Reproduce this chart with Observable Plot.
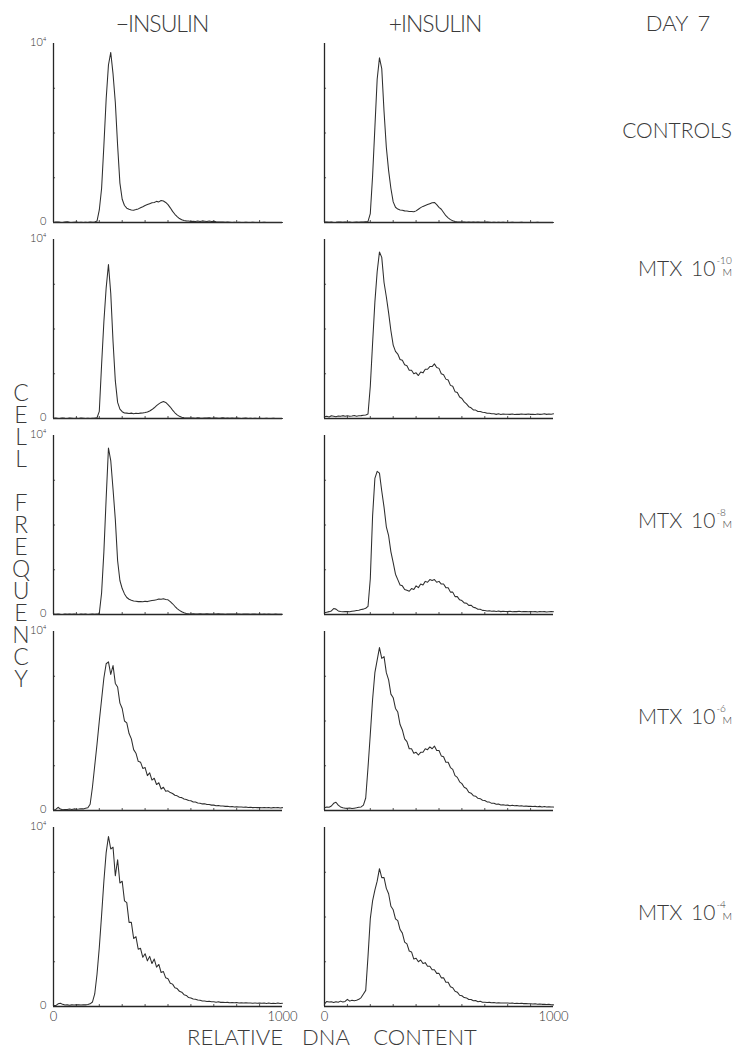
<!DOCTYPE html>
<html><head><meta charset="utf-8">
<script src="https://cdn.jsdelivr.net/npm/d3@7"></script>
<script src="https://cdn.jsdelivr.net/npm/@observablehq/plot@0.6"></script>
<style>
body{margin:0;background:#fff;}
#fig{position:relative;width:736px;height:1049px;overflow:hidden;font-family:Lato,"Open Sans",sans-serif;font-weight:300;color:#3a3a3a;background:#fff;}
#fig svg{position:absolute;left:0;top:0;}
.lbl{position:absolute;transform:translate(-50%,-50%);white-space:nowrap;line-height:1;}
.lft{position:absolute;transform:translate(0,-50%);white-space:nowrap;line-height:1;font-size:21px;}
.vert{position:absolute;writing-mode:vertical-lr;text-orientation:upright;white-space:nowrap;line-height:1;}
.ex{display:inline-block;position:relative;width:22px;height:16px;vertical-align:baseline;}
.ex .e{position:absolute;left:1px;top:-5px;font-size:10px;}
.ex .m{position:absolute;left:7px;bottom:-1px;font-size:10.5px;}
</style></head><body><div id="fig"></div>
<script>
// ---- data ----
const channels = [0,10,20,30,40,50,60,70,80,90,100,110,120,130,140,150,160,170,180,190,200,210,220,230,240,250,260,270,280,290,300,310,320,330,340,350,360,370,380,390,400,410,420,430,440,450,460,470,480,490,500,510,520,530,540,550,560,570,580,590,600,610,620,630,640,650,660,670,680,690,700,710,720,730,740,750,760,770,780,790,800,810,820,830,840,850,860,870,880,890,900,910,920,930,940,950,960,970,980,990,1000];
const insulin = ["−INSULIN", "+INSULIN"];
const treatments = ["CONTROLS", "MTX 10-10", "MTX 10-8", "MTX 10-6", "MTX 10-4"];
const exponents = ["", "-10", "-8", "-6", "-4"];
const dayLabel = "DAY 7";
const yTitle = "CELL FREQUENCY";
const xTitle = ["RELATIVE", "DNA", "CONTENT"];
const yTickValues = [0, 10000];
const yTickLabels = ["0", "10⁴"];
const xTickValues = [0, 1000];
const xTickLabels = ["0", "1000"];
const xMinorTicks = [100,200,300,400,500,600,700,800,900];
const yMinorTicks = [2500,5000,7500];

const ctrlMinus = [0,20,30,10,0,20,40,10,0,10, 20,0,10,0,10,0,20,10,30,80, 700,1900,4300,6900,8800,9500,8300,6700,4300,2200, 1300,950,800,740,700,690,720,760,820,880, 950,1000,1050,1100,1120,1180,1150,1230,1200,1120, 1000,820,620,460,330,220,150,110,90,80, 60,70,50,80,60,90,70,50,80,60, 70,40,30,20,30,10,20,10,0,10, 0,10,0,0,10,0,0,10,0,0, 0,0,10,0,0,0,0,0,0,0, 0];
const ctrlPlus = [20,30,10,20,0,10,30,20,10,20, 10,20,0,10,20,10,30,20,40,60, 500,2600,5300,8000,9200,8600,6200,4200,2900,1900, 1150,850,750,700,680,650,640,620,610,600, 650,740,830,900,950,1000,1050,1100,1120,1000, 850,740,560,380,260,160,100,50,30,20, 20,30,10,20,10,20,10,20,10,10, 10,20,10,0,10,0,10,0,10,0, 0,0,10,0,0,0,10,0,0,0, 0,0,0,10,0,0,0,0,0,0, 0];
const m10Minus = [10,20,0,10,30,10,0,20,10,0, 10,0,20,10,0,10,0,10,20,40, 400,3000,5400,7300,8600,7000,4300,2100,900,520, 380,310,300,280,300,270,290,280,300,310, 330,360,420,500,600,720,820,900,950,900, 780,640,470,320,200,120,70,40,30,20, 30,20,10,40,20,10,30,20,40,10, 20,30,10,20,40,10,20,10,30,10, 20,10,0,10,20,0,10,0,10,0, 10,0,0,10,0,0,10,0,0,0, 0];
const m10Plus = [100,120,80,150,130,100,140,120,160,130, 150,120,140,170,130,150,160,180,200,250, 1800,4200,6500,8200,9300,9000,7600,6800,5900,4900, 4100,3750,3600,3300,3250,3000,2950,2700,2700,2500, 2550,2400,2600,2550,2750,2750,2900,2900,3050,2850, 2800,2500,2450,2200,2150,1850,1800,1500,1450,1200, 1120,930,820,660,600,480,470,390,390,350, 340,290,290,260,260,230,260,220,250,240, 240,230,250,220,240,230,250,240,230,250, 230,240,220,250,230,240,260,230,250,240, 260];
const m8Minus = [20,10,30,10,0,20,10,30,10,20, 10,0,20,10,20,0,10,20,10,20, 60,1200,3500,6500,9300,8600,7000,5300,3000,1900, 1450,1150,950,850,800,760,740,720,730,710, 740,720,760,780,800,820,860,850,880,840, 820,720,600,460,330,230,150,100,60,40, 30,40,20,30,40,20,30,40,30,20, 30,20,40,20,30,10,30,20,20,30, 20,30,10,20,30,20,10,30,20,10, 20,10,20,10,20,10,10,20,10,10, 10];
const m8Plus = [100,130,160,200,330,300,200,170,150,160, 170,150,180,200,220,240,280,300,350,450, 2000,5500,7600,8000,7900,6900,6000,4900,4400,3500, 2900,2250,1950,1650,1600,1400,1350,1300,1450,1400, 1600,1500,1700,1650,1850,1800,1950,1900,1950,1800, 1850,1700,1700,1500,1500,1250,1250,1000,1000,820, 780,650,630,510,520,400,370,290,290,230, 220,200,210,180,200,170,190,160,180,170, 160,180,150,170,160,180,150,170,160,150, 170,150,160,140,170,150,160,140,150,160, 150];
const m6Minus = [20,60,180,80,40,60,50,80,60,90, 70,80,100,90,120,150,350,1300,2500,3700, 5000,6200,7400,8200,8300,7600,8100,7100,6900,6000, 5700,5000,4900,4300,4000,3400,3200,2750,2700,2350, 2400,1950,2100,1700,1800,1450,1550,1200,1300,1080, 1100,1000,950,850,820,740,720,640,620,560, 540,480,470,420,410,370,380,340,330,300, 300,270,280,250,250,230,240,210,220,200, 210,190,200,180,190,170,180,160,170,160, 170,150,160,150,170,140,160,150,170,140, 160];
const m6Plus = [150,200,180,250,400,460,300,200,150,130, 120,140,110,130,150,180,200,300,700,2400, 4260,6200,7700,8400,9100,8500,8600,7700,7300,6500, 6300,5700,5500,4800,4500,4000,3850,3450,3450,3200, 3250,3100,3250,3250,3450,3400,3550,3450,3600,3350, 3350,3050,3000,2700,2700,2400,2300,1950,1850,1600, 1500,1300,1230,1020,970,830,800,680,660,570, 560,480,470,400,410,350,360,310,320,290, 300,270,290,260,280,250,260,240,250,230, 240,220,230,210,230,200,220,190,210,200, 190];
const m4Minus = [60,50,150,180,120,80,90,70,90,80, 100,90,80,100,90,110,150,250,700,1800, 3300,5100,7000,8600,9500,8800,8900,7300,8200,6900, 7000,5900,5800,4700,4700,3800,3900,3200,3250,2750, 2950,2550,2800,2400,2650,2200,2350,1900,1950,1600, 1550,1300,1250,1050,1000,850,800,660,620,500, 480,420,410,360,350,310,310,280,290,260, 270,240,260,230,240,220,230,210,220,210, 220,200,210,190,210,190,200,180,200,180, 190,180,190,170,190,170,180,170,190,170, 180];
const m4Plus = [150,280,250,260,220,270,240,300,250,280, 400,300,350,320,350,400,500,700,900,2800, 4900,5900,6500,7000,7700,7200,7200,6600,6300,5600, 5400,4900,4800,4300,4100,3600,3500,3100,3050,2650, 2700,2500,2600,2400,2450,2250,2250,2050,2050,1850, 1850,1600,1600,1350,1350,1100,1050,850,800,630, 600,500,480,390,390,320,330,270,290,240, 240,220,230,210,220,200,210,190,200,190, 190,180,190,170,180,170,180,160,170,150, 150,140,150,130,140,120,130,110,120,100, 90];

// ---- build table ----
const panels = [
  [treatments[0], insulin[0], ctrlMinus], [treatments[0], insulin[1], ctrlPlus],
  [treatments[1], insulin[0], m10Minus], [treatments[1], insulin[1], m10Plus],
  [treatments[2], insulin[0], m8Minus], [treatments[2], insulin[1], m8Plus],
  [treatments[3], insulin[0], m6Minus], [treatments[3], insulin[1], m6Plus],
  [treatments[4], insulin[0], m4Minus], [treatments[4], insulin[1], m4Plus]
];
const rows = panels.flatMap(([t, ins, vals]) => vals.map((v, i) => ({t, ins, x: channels[i], y: v})));
const yLabelData = treatments.flatMap(t => yTickValues.map((v, j) => ({t, ins: insulin[0], y: v, label: yTickLabels[j]})));
const xLabelData = insulin.flatMap(ins => xTickValues.map((v, j) => ({t: treatments[4], ins, x: v, label: xTickLabels[j]})));

const ink = "#262626";
const font = "Lato, 'Open Sans', sans-serif";

const chart = Plot.plot({
  width: 736, height: 1049,
  marginTop: 41, marginBottom: 41, marginLeft: 52, marginRight: 182,
  style: {background: "transparent", overflow: "visible"},
  x: {domain: [0, 1000], axis: null},
  y: {domain: [0, 10000], axis: null},
  fx: {domain: insulin, paddingInner: 0.154, paddingOuter: 0, axis: null, label: null},
  fy: {domain: treatments, paddingInner: 0.085, paddingOuter: 0, axis: null, label: null},
  marks: [
    Plot.ruleY([0], {x1: 0, x2: 1000, stroke: ink, strokeWidth: 1.3}),
    Plot.ruleX([0], {y1: 0, y2: 10000, stroke: ink, strokeWidth: 1.3}),
    Plot.ruleX(xMinorTicks, {x: d => d, y1: 0, y2: 110, stroke: ink, strokeWidth: 0.8}),
    Plot.ruleY(yMinorTicks, {y: d => d, x1: 0, x2: 9, stroke: ink, strokeWidth: 0.8}),
    Plot.line(rows, {x: "x", y: "y", fx: "ins", fy: "t", stroke: "#2e2e2e", strokeWidth: 1.05, strokeLinejoin: "round"}),
    Plot.text(yLabelData, {x: 0, y: "y", fx: "ins", fy: "t", text: "label", textAnchor: "end", dx: -7, dy: -1, fontSize: 11, fontFamily: font, fill: "#333"}),
    Plot.text(xLabelData, {x: "x", y: 0, fx: "ins", fy: "t", text: "label", textAnchor: "middle", dy: 10, fontSize: 13, fontFamily: font, fill: "#333"})
  ]
});

const fig = document.getElementById("fig");
fig.appendChild(chart);

function addLabel(html, x, y, size, cls = "lbl", extra = "") {
  const d = document.createElement("div");
  d.className = cls;
  d.style.left = x + "px";
  d.style.top = y + "px";
  if (size) d.style.fontSize = size + "px";
  if (extra) d.style.cssText += extra;
  d.innerHTML = html;
  fig.appendChild(d);
  return d;
}

// column headers
addLabel(insulin[0], 162, 23, 23, "lbl", "letter-spacing:-1px;");
addLabel(insulin[1], 435, 23, 23, "lbl", "letter-spacing:-1px;");
addLabel(dayLabel, 678, 23, 22, "lbl", "word-spacing:4px;");

// row labels
const rowY = [129, 267, 519, 715, 911];
treatments.forEach((t, i) => {
  if (i === 0) {
    addLabel(t, 677, rowY[i], 21);
  } else {
    const [name, base] = t.split(" ");
    addLabel(`${name} ${base.split("-")[0]}<span class="ex"><span class="e">${exponents[i]}</span><span class="m">M</span></span>`, 638, rowY[i], 21, "lft", "word-spacing:3px;");
  }
});

// y title: one vertical text, letters upright
addLabel(yTitle, 9, 378, 23, "vert", "letter-spacing:-6px;");

// x title
const xTitleX = [235, 326, 425];
xTitle.forEach((w, i) => addLabel(w, xTitleX[i], 1037, 22, "lbl", "line-height:0.8;"));
</script></body></html>
